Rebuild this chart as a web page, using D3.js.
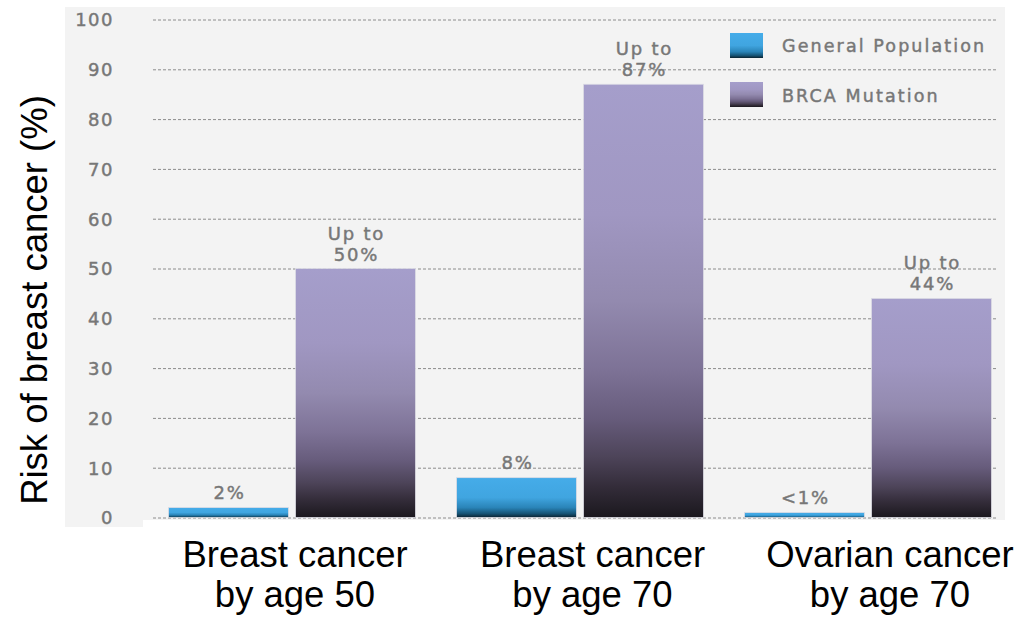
<!DOCTYPE html>
<html>
<head>
<meta charset="utf-8">
<script src="https://cdn.jsdelivr.net/npm/d3@7"></script>
<style>
  body { margin: 0; background: #fff; }
  svg { display: block; }
</style>
</head>
<body>
<svg id="chart" width="1020" height="617"></svg>
<script>
// Categories, series and values
const categories = ["Breast cancer by age 50", "Breast cancer by age 70", "Ovarian cancer by age 70"];
const categoryLines = [["Breast cancer", "by age 50"], ["Breast cancer", "by age 70"], ["Ovarian cancer", "by age 70"]];
const series = ["General Population", "BRCA Mutation"];
const generalPopulation = [2, 8, 1];
const brcaMutation = [50, 87, 44];
const generalLabels = ["2%", "8%", "<1%"];
const brcaLabels = [["Up to", "50%"], ["Up to", "87%"], ["Up to", "44%"]];
const yTicks = [0, 10, 20, 30, 40, 50, 60, 70, 80, 90, 100];
const yTitle = "Risk of breast cancer (%)";

const svg = d3.select("#chart");
const grey = "#777";
const smallFont = "'DejaVu Sans', sans-serif";
const bigFont = "'Liberation Sans', Arial, sans-serif";

// Gradients for bars and legend swatches
const defs = svg.append("defs");
function gradient(id, stops) {
  const g = defs.append("linearGradient").attr("id", id)
    .attr("x1", 0).attr("y1", 0).attr("x2", 0).attr("y2", 1);
  stops.forEach(([o, c]) => g.append("stop").attr("offset", o).attr("stop-color", c));
}
gradient("gradGeneral", [[0, "#45ace9"], [0.5, "#40a5e0"], [0.75, "#2a84b8"], [0.9, "#165476"], [1, "#0a2230"]]);
gradient("gradBrca", [[0, "#a59ecb"], [0.3, "#a097c2"], [0.5, "#938aaf"], [0.66, "#7d7296"], [0.77, "#675c7c"], [0.86, "#4d4459"], [0.93, "#332c39"], [1, "#1b181e"]]);
const fills = { "General Population": "url(#gradGeneral)", "BRCA Mutation": "url(#gradBrca)" };

// Plot panel background
svg.append("rect").attr("x", 65).attr("y", 7).attr("width", 940).attr("height", 520).attr("fill", "#f3f3f3");

// Scales
const y = d3.scaleLinear().domain([0, 100]).range([517.5, 19.5]);
const x0 = d3.scaleBand().domain(categories).range([168.5, 991.5]).paddingInner(0.1424);
const x1 = d3.scaleBand().domain(series).range([0, x0.bandwidth()]).paddingInner(0.055);
const xLabel = d3.scalePoint().domain(categories).range([295, 890]);

// Small grey text style (ticks, value labels, legend)
const greyText = (sel, size, spacing) => sel
  .attr("fill", grey).attr("stroke", grey).attr("stroke-width", 0.45)
  .attr("font-family", smallFont).attr("font-size", size)
  .attr("letter-spacing", spacing + "px");

// Y axis with dashed gridlines
const gridLeft = 153, gridRight = 997;
const yAxis = svg.append("g")
  .attr("transform", `translate(${gridLeft},0)`)
  .call(d3.axisLeft(y).tickValues(yTicks).tickSize(-(gridRight - gridLeft)).tickPadding(39));
yAxis.select(".domain").remove();
yAxis.selectAll(".tick line")
  .attr("stroke", "#8c8c8c").attr("stroke-width", 1).attr("stroke-dasharray", "3,2");
yAxis.selectAll(".tick text").call(greyText, 18, 1.5).attr("dy", "0.36em");

// Bars
const rows = categories.map((c, i) => ({
  category: c,
  values: [
    { key: "General Population", value: generalPopulation[i] },
    { key: "BRCA Mutation", value: brcaMutation[i] }
  ]
}));

const groups = svg.append("g").selectAll("g").data(rows).join("g")
  .attr("transform", d => `translate(${x0(d.category)},0)`);

groups.selectAll("rect").data(d => d.values).join("rect")
  .attr("x", d => x1(d.key))
  .attr("y", d => y(d.value))
  .attr("width", x1.bandwidth())
  .attr("height", d => y(0) - y(d.value))
  .attr("fill", d => fills[d.key])
  .attr("stroke", "#dcdce4").attr("stroke-width", 0.8);

// Value labels
categories.forEach((c, i) => {
  const gx = x0(c) + x1("General Population") + x1.bandwidth() / 2 + 1;
  svg.append("text").call(greyText, 18, 1.8).attr("text-anchor", "middle")
    .attr("x", gx).attr("y", y(generalPopulation[i]) - 9)
    .text(generalLabels[i]);
  const bx = x0(c) + x1("BRCA Mutation") + x1.bandwidth() / 2 + 1;
  svg.append("text").call(greyText, 18, 1.8).attr("text-anchor", "middle")
    .attr("x", bx).attr("y", y(brcaMutation[i]) - 29)
    .text(brcaLabels[i][0]);
  svg.append("text").call(greyText, 18, 1.8).attr("text-anchor", "middle")
    .attr("x", bx).attr("y", y(brcaMutation[i]) - 8)
    .text(brcaLabels[i][1]);
});

// Legend
const legend = svg.append("g");
series.forEach((s, i) => {
  legend.append("rect")
    .attr("x", 730).attr("y", 33 + i * 49).attr("width", 33).attr("height", 25)
    .attr("fill", fills[s]);
  legend.append("text").call(greyText, 17.5, 2.1)
    .attr("x", 782).attr("y", 52 + i * 50)
    .text(s);
});

// Label area below the panel
svg.append("rect").attr("x", 143).attr("y", 520).attr("width", 877).attr("height", 97).attr("fill", "#fff");

// Category labels
categories.forEach((c, i) => {
  const t = svg.append("text")
    .attr("x", xLabel(c)).attr("y", 567)
    .attr("text-anchor", "middle")
    .attr("font-family", bigFont).attr("font-size", 36.5).attr("fill", "#000");
  categoryLines[i].forEach((line, j) => {
    t.append("tspan").attr("x", xLabel(c)).attr("dy", j === 0 ? 0 : 40).text(line);
  });
});

// Y axis title
svg.append("text")
  .attr("transform", "translate(47,300) rotate(-90)")
  .attr("text-anchor", "middle")
  .attr("font-family", bigFont).attr("font-size", 36.5).attr("fill", "#000")
  .text(yTitle);
</script>
</body>
</html>
